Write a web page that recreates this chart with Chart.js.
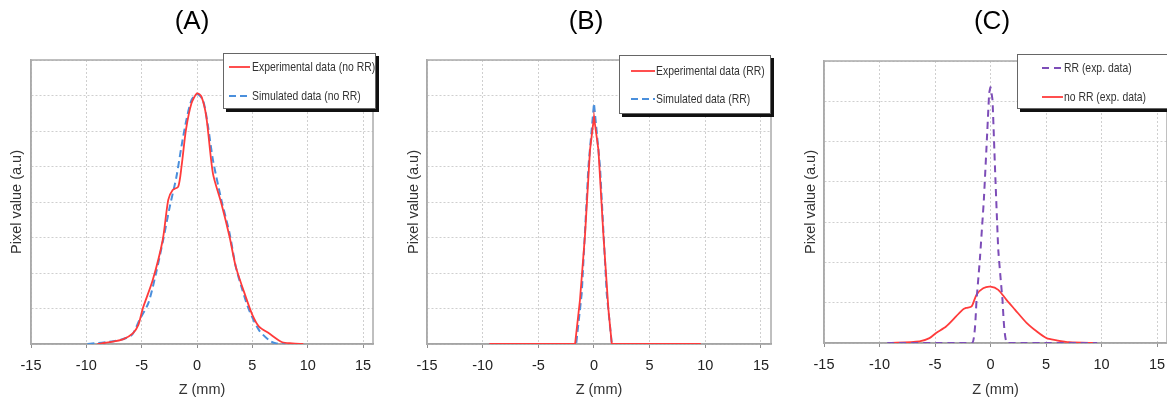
<!DOCTYPE html>
<html>
<head>
<meta charset="utf-8">
<script src="https://cdn.jsdelivr.net/npm/chart.js@4.4.0/dist/chart.umd.min.js"></script>
<style>
  html, body { margin: 0; padding: 0; background: #fff; overflow: hidden; }
  .panel { position: absolute; top: 0; }
  .panel canvas { display: block; }
</style>
</head>
<body>
<div class="panel" style="left:0px"><canvas id="chartA" width="390" height="403"></canvas></div>
<div class="panel" style="left:390px"><canvas id="chartB" width="390" height="403"></canvas></div>
<div class="panel" style="left:780px"><canvas id="chartC" width="420" height="403"></canvas></div>
<script>
// ---- data (z in mm, pixel value in arbitrary units) ----
// (A) no RR
const zExpA = [-9.0, -7.9, -6.7, -5.8, -5.3, -4.9, -4.0, -3.1, -2.6, -2.2, -1.7, -1.4, -1.0, -0.5, 0, 0.4, 0.84, 1.44, 2.2, 2.94, 3.5, 4.4, 5.0, 5.6, 6.5, 7.7, 8.6, 9.6];
const vExpA = [0, 0.05, 0.13, 0.3, 0.54, 1.0, 1.8, 2.93, 4.06, 4.34, 4.43, 5.0, 6.03, 6.78, 7.06, 6.97, 6.4, 4.8, 3.96, 3.02, 2.18, 1.33, 0.82, 0.49, 0.3, 0.05, 0.02, 0];
const zSimA = [-9.9, -7.3, -5.9, -5.2, -4.4, -3.7, -3.06, -2.46, -1.86, -1.41, -0.96, -0.5, 0, 0.54, 1.0, 1.44, 2.2, 2.94, 3.5, 4.1, 4.7, 5.6, 6.5, 7.1, 8.0];
const vSimA = [0, 0.09, 0.25, 0.68, 1.15, 2.0, 2.93, 3.87, 4.71, 5.56, 6.31, 6.87, 7.04, 6.87, 6.12, 5.18, 4.06, 3.12, 2.18, 1.52, 0.96, 0.39, 0.11, 0.02, 0];

// (B) RR
const zExpB = [-9.4, -1.7, -1.26, -0.8, -0.36, 0, 0.4, 0.84, 1.3, 1.6, 9.6];
const vExpB = [0, 0, 1.24, 3.1, 5.46, 6.4, 5.46, 3.1, 0.96, 0, 0];
const zSimB = [-9.4, -1.6, -1.1, -0.5, 0, 0.54, 1.14, 1.6, 9.6];
const vSimB = [0, 0, 1.43, 5.0, 6.78, 5.0, 1.43, 0, 0];

// (C) RR vs no RR, experimental
const zRRC = [-9.3, -1.65, -1.26, -0.96, -0.6, -0.3, -0.12, 0, 0.18, 0.4, 0.7, 1.08, 1.5, 9.6];
const vRRC = [0, 0, 1.07, 2.07, 3.55, 5.2, 6.2, 6.35, 6.03, 4.38, 2.31, 1.07, 0, 0];
const zNoRRC = [-9.24, -6.4, -5.5, -4.9, -4.0, -3.1, -2.5, -2.2, -1.7, -1.26, -0.66, 0, 0.7, 1.44, 2.2, 3.25, 4.15, 5.05, 5.9, 7.1, 9.6];
const vNoRRC = [0, 0.04, 0.12, 0.25, 0.41, 0.66, 0.83, 0.87, 0.91, 1.2, 1.36, 1.40, 1.32, 1.07, 0.83, 0.5, 0.29, 0.12, 0.07, 0.02, 0];

const zTicks = [-15, -10, -5, 0, 5, 10, 15];

const pts = (zs, vs) => zs.map((z, i) => ({ x: z, y: vs[i] }));

Chart.defaults.font.family = "'Liberation Sans', Arial, sans-serif";

// light grey frame around the plot area
const plotFrame = {
    id: 'plotFrame',
    beforeDatasetsDraw(chart) {
        const { ctx, chartArea: a } = chart;
        ctx.save();
        ctx.strokeStyle = '#ababab';
        ctx.lineWidth = 1.5;
        ctx.strokeRect(a.left, a.top, a.right - a.left, a.bottom - a.top);
        ctx.restore();
    }
};

// boxed legend with a dark drop shadow, like the spreadsheet one
const boxLegend = {
    id: 'boxLegend',
    afterDatasetsDraw(chart, args, o) {
        const { ctx } = chart;
        ctx.save();
        ctx.fillStyle = '#111';
        ctx.fillRect(o.x + 3, o.y + 3, o.w, o.h);
        ctx.fillStyle = '#fff';
        ctx.fillRect(o.x, o.y, o.w, o.h);
        ctx.strokeStyle = '#666';
        ctx.lineWidth = 1;
        ctx.strokeRect(o.x + 0.5, o.y + 0.5, o.w - 1, o.h - 1);
        chart.data.datasets.forEach((ds, i) => {
            const y = o.rows[i];
            ctx.strokeStyle = ds.borderColor;
            ctx.lineWidth = ds.borderWidth;
            ctx.setLineDash(ds.borderDash || []);
            ctx.beginPath();
            ctx.moveTo(o.lineX, y);
            ctx.lineTo(o.lineX + o.lineW, y);
            ctx.stroke();
            ctx.setLineDash([]);
            ctx.fillStyle = '#333';
            ctx.font = "13px 'Liberation Sans', Arial, sans-serif";
            ctx.textBaseline = 'middle';
            // the original uses a narrow face: squeeze the text horizontally
            const w = ctx.measureText(ds.label).width * 0.8;
            ctx.fillText(ds.label, o.textX, y, w);
        });
        ctx.restore();
    }
};

const redLine = (label, data) => ({
    label, data, borderColor: '#ff3b3b', borderWidth: 1.8, pointRadius: 0, tension: 0.25
});
const dashLine = (label, data, color) => ({
    label, data, borderColor: color, borderWidth: 2, borderDash: [7, 4], pointRadius: 0, tension: 0.25
});

function makePanel(id, title, datasets, yMax, g) {
    return new Chart(document.getElementById(id), {
        type: 'line',
        data: { datasets },
        plugins: [plotFrame, boxLegend],
        options: {
            responsive: false,
            animation: false,
            layout: { padding: { left: g.padL, right: g.padR, top: 0, bottom: 0 } },
            plugins: {
                legend: { display: false },
                tooltip: { enabled: false },
                title: {
                    display: true, text: title, color: '#000',
                    font: { size: 26, weight: 'normal' },
                    padding: { top: 6.4, bottom: g.titleGap }
                },
                boxLegend: g.legend
            },
            scales: {
                x: {
                    type: 'linear', min: -15, max: 15.9,
                    afterFit: s => { s.height = g.xHeight; },
                    afterBuildTicks: s => { s.ticks = zTicks.map(v => ({ value: v })); },
                    ticks: { color: '#222', padding: 9, maxRotation: 0, font: { size: 14.5 } },
                    grid: { color: '#cfcfcf', tickLength: 4, tickColor: '#8f8f8f', tickBorderDash: [] },
                    border: { color: '#8f8f8f', width: 1.5, dash: [2, 2] },
                    title: {
                        display: true, text: 'Z (mm)', color: '#333',
                        font: { size: 14.5 },
                        padding: { top: 0, bottom: 4 }
                    }
                },
                y: {
                    min: 0, max: yMax,
                    afterFit: s => { s.width = g.yWidth; },
                    ticks: { display: false, stepSize: 1 },
                    grid: { color: '#cfcfcf', drawTicks: false },
                    border: { color: '#ababab', width: 1.5, dash: [2, 2] },
                    title: {
                        display: true, text: 'Pixel value (a.u)', color: '#333',
                        font: { size: 14.5, lineHeight: 1 },
                        padding: { top: g.yTitlePad, bottom: 0 }
                    }
                }
            }
        }
    });
}

makePanel('chartA', '(A)', [
    redLine('Experimental data (no RR)', pts(zExpA, vExpA)),
    dashLine('Simulated data (no RR)', pts(zSimA, vSimA), '#4a8fdc')
], 8, {
    padL: 11, padR: 17, yWidth: 20, yTitlePad: -1.25, xHeight: 59, titleGap: 22.4,
    legend: { x: 223, y: 53, w: 153, h: 56, rows: [67, 96], lineX: 229, lineW: 21, textX: 252 }
});

makePanel('chartB', '(B)', [
    { ...redLine('Experimental data (RR)', pts(zExpB, vExpB)), tension: 0 },
    { ...dashLine('Simulated data (RR)', pts(zSimB, vSimB), '#4a8fdc'), tension: 0 }
], 8, {
    padL: 11, padR: 9, yWidth: 26, yTitlePad: 5.75, xHeight: 59, titleGap: 22.4,
    legend: { x: 229, y: 55, w: 152, h: 59, rows: [71, 99], lineX: 241, lineW: 24, textX: 266 }
});

makePanel('chartC', '(C)', [
    { ...dashLine('RR (exp. data)', pts(zRRC, vRRC), '#7d4db8'), borderDash: [7, 5], tension: 0.1 },
    redLine('no RR (exp. data)', pts(zNoRRC, vNoRRC))
], 7, {
    padL: 37, padR: 33, yWidth: 7, yTitlePad: -13.25, xHeight: 60, titleGap: 23.4,
    legend: { x: 237, y: 54, w: 170, h: 55, rows: [68, 97], lineX: 262, lineW: 21, textX: 284 }
});
</script>
</body>
</html>
